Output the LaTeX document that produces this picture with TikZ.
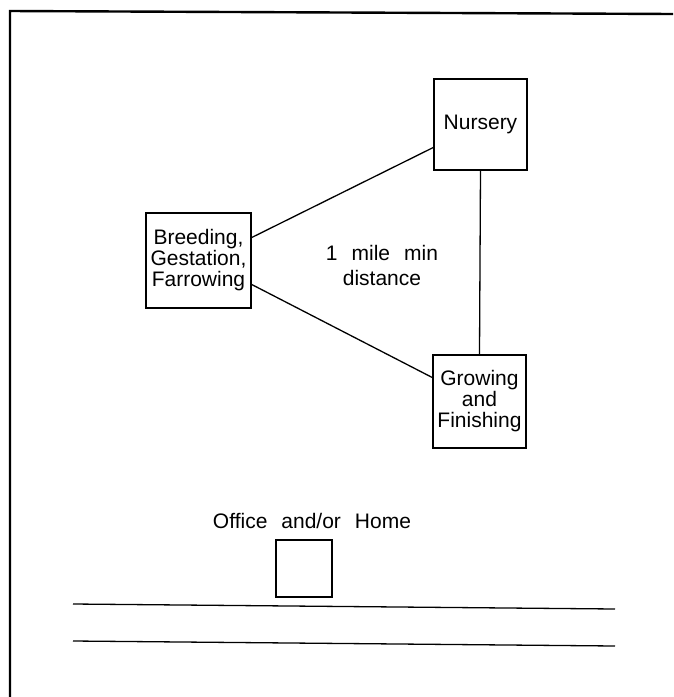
\documentclass[tikz,border=0pt]{standalone}
\usepackage{fontspec}
\setmainfont{Liberation Sans}[WordSpace=2.4]
\usetikzlibrary{positioning}
\begin{document}
\begin{tikzpicture}[x=1pt,y=-1pt,line width=1.3pt,
  lbl/.style={inner sep=0pt,align=center,font=\fontsize{21}{21}\selectfont},
  farm/.style={lbl,draw,line width=1.5pt}]
\useasboundingbox (0,0) rectangle (673,697);
\draw[line width=2.4pt] (10,697)--(10,11)--(673,14);
\node[farm,minimum width=93pt,minimum height=91pt] (nursery) at (480.5,124.5) {Nursery};
\node[farm,minimum width=105pt,minimum height=95pt] (breeding) at (198.5,260.5) {Breeding,\\Gestation,\\Farrowing};
\node[farm,minimum width=93pt,minimum height=93pt] (growing) at (479.5,401.5) {Growing\\and\\Finishing};
\node[lbl] (distance) at (382,265) {1 mile min\\[4pt]distance};
\draw ([yshift=23pt]breeding.east)--([yshift=-23pt]nursery.west);
\draw ([yshift=-24pt]breeding.east)--([yshift=24pt]growing.west);
\draw (nursery.south)--(growing.north);
% office and road
\node[farm,minimum width=56pt,minimum height=57pt] (office) at (304,568.5) {};
\node[lbl,anchor=base] (officelabel) at (312,528) {Office and/or Home};
\draw (73,604)--(615,609);
\draw (73,641)--(615,646);
\end{tikzpicture}
\end{document}
